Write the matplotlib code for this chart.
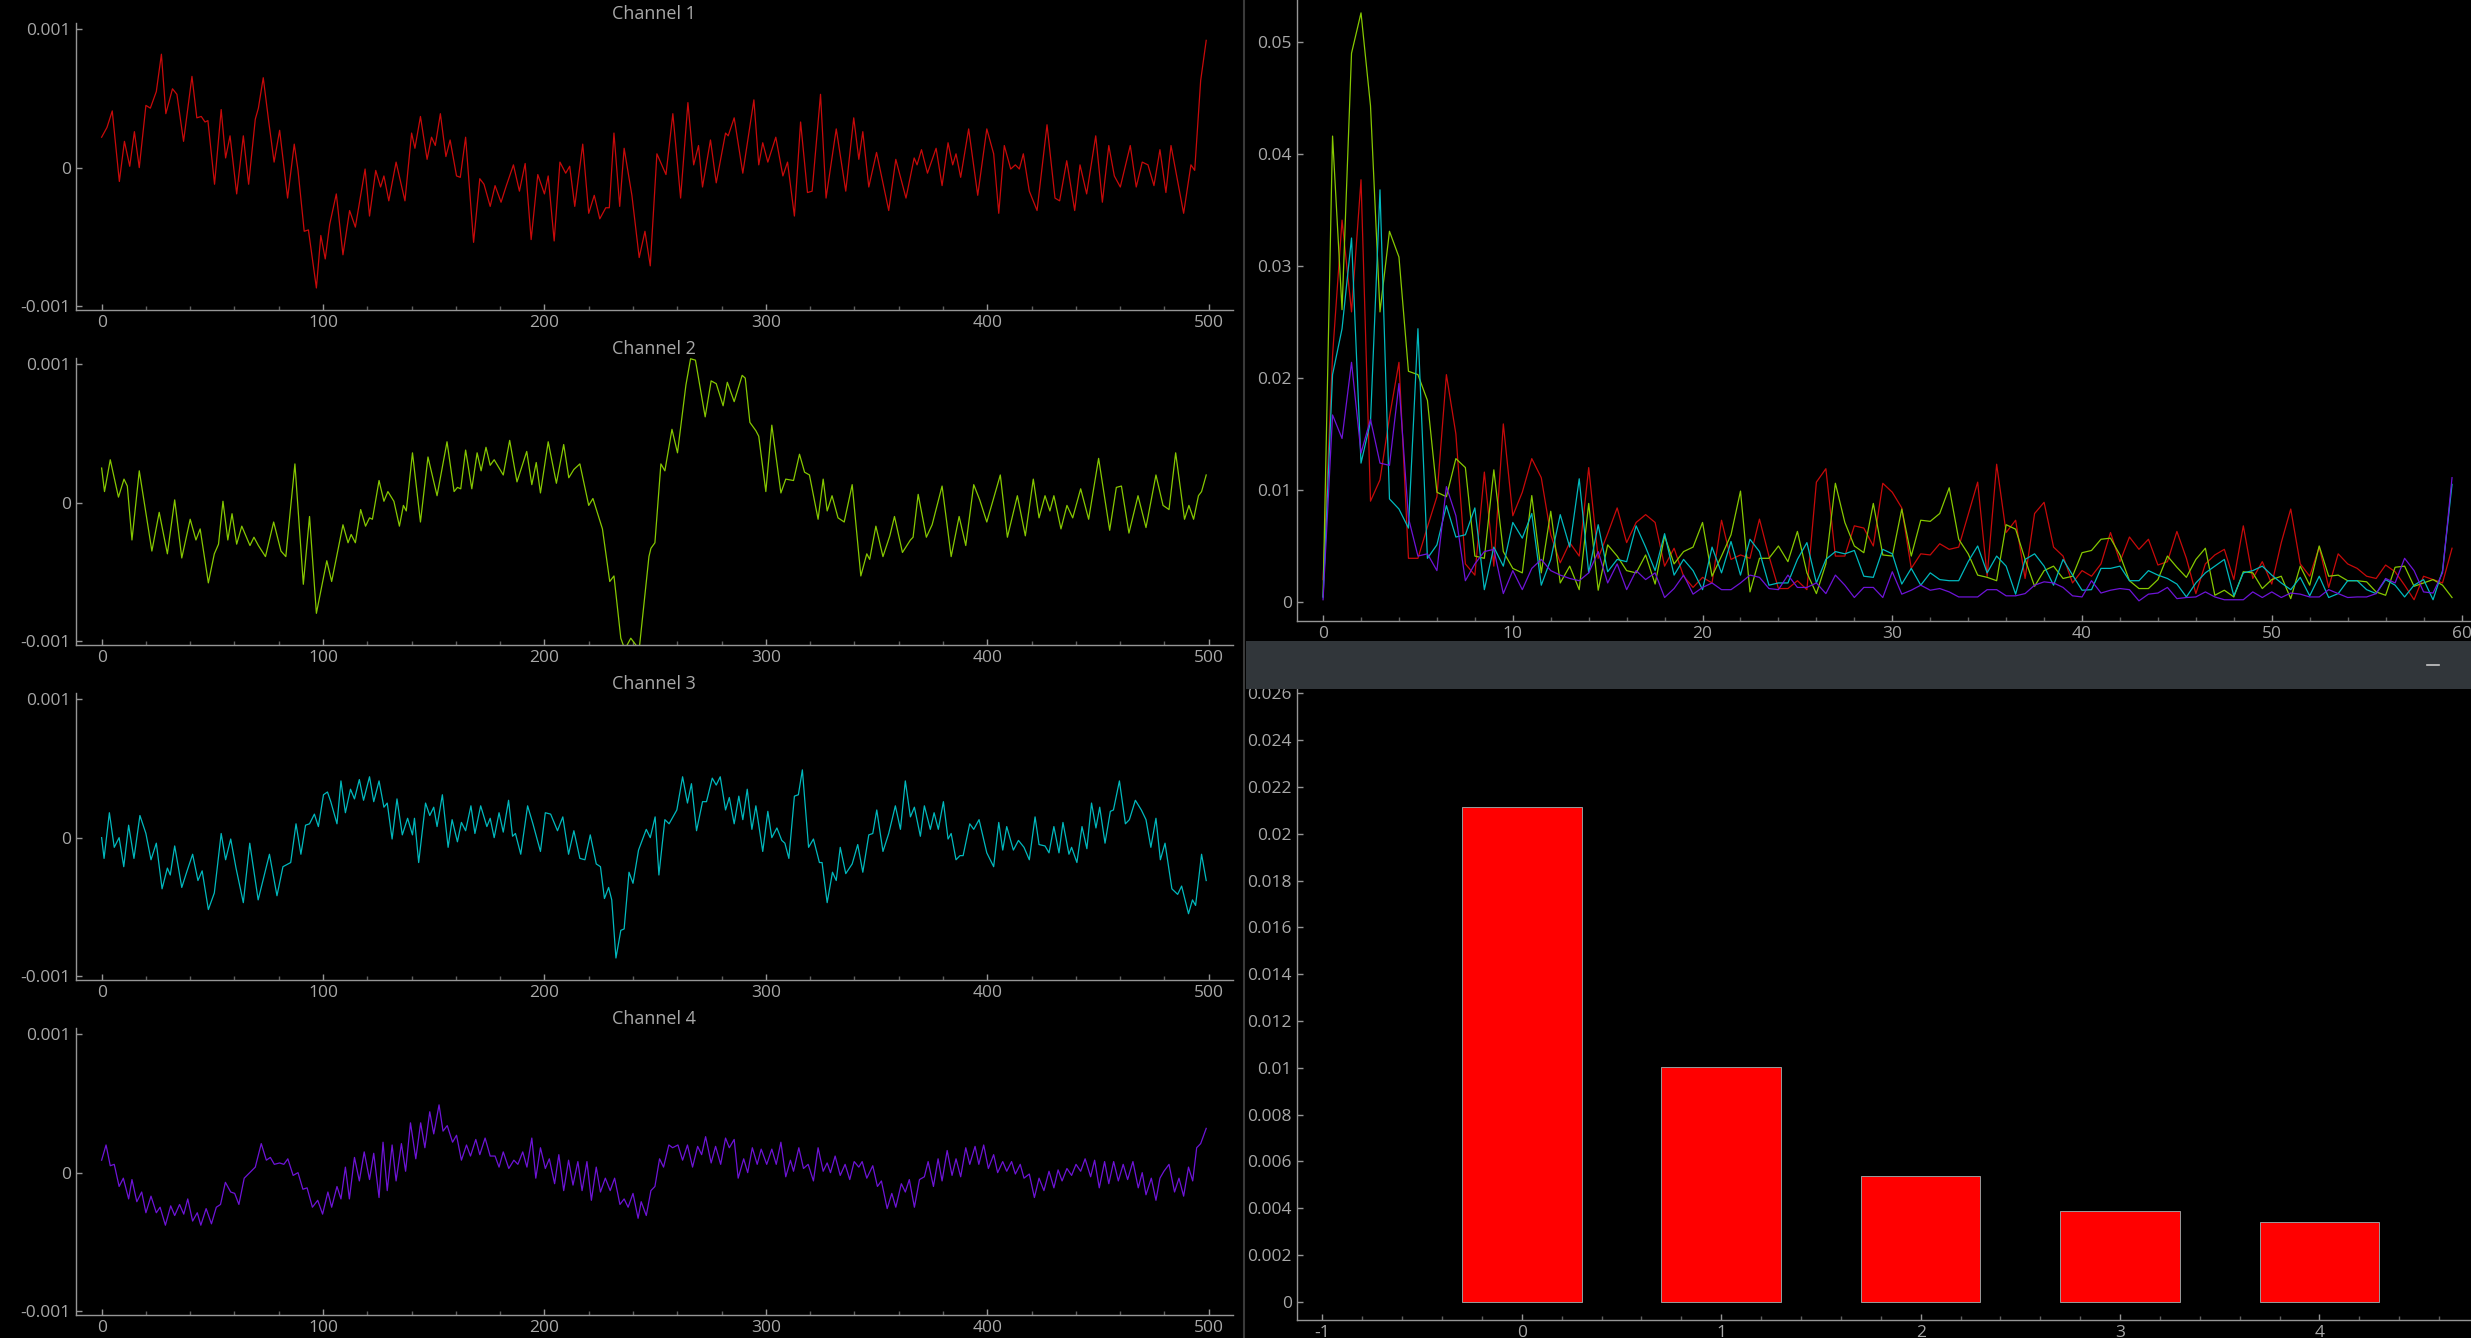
import matplotlib

matplotlib.use("Agg")
import matplotlib.pyplot as plt
import numpy as np
from matplotlib.lines import Line2D
from matplotlib.patches import Rectangle
from matplotlib.ticker import FuncFormatter, MultipleLocator

# ---- data (signal values in units of 1e-3) ----
SCALE = 1e-3

CH1_X = [0, 2.4, 4.8, 8, 10.3, 12.7, 14.8, 17, 20, 22, 24.7, 27, 29, 32, 34, 37, 40.8, 43, 45, 46.7,
         48, 51, 54, 56, 58, 61, 64, 66.4, 69.4, 70.8, 73, 75.5, 77.9, 80.4, 84, 87, 88.7, 91.5, 93.4, 97,
         99, 101, 103, 106, 109, 112, 114.6, 119, 121, 123.8, 126, 127.5, 129.7, 133, 137, 140, 141.5, 144, 147, 149,
         150.7, 153, 155.5, 157.4, 160.3, 162, 164.4, 168, 170.8, 172.7, 175.5, 177.7, 180.4, 182.8, 186, 188.7, 191.3, 194, 197, 200,
         201.7, 204.4, 207, 209.6, 211.4, 213.7, 217.3, 220, 222.5, 225, 227.7, 229.3, 231.4, 234, 236, 239.5, 242.8, 245.4, 247.8, 250.8,
         254.9, 258, 261.5, 264.8, 267.4, 269.6, 271.4, 275, 277.6, 281.8, 283, 285.7, 289.6, 294.6, 296.8, 298.6, 300.9, 304.5, 307.7, 309.8,
         312.9, 315.7, 318.8, 320.9, 324.7, 327.2, 331.8, 336.1, 339.7, 342, 343.8, 346.5, 350, 355.5, 358.7, 363.3, 367, 368.3, 370.3, 373,
         376.9, 379.6, 382.3, 384.4, 385.9, 388, 391.6, 395.7, 399.8, 402.9, 405.2, 407.7, 410.6, 412.7, 414.5, 416.3, 419, 422.5, 427, 430.6,
         432.7, 435.9, 439.5, 441.9, 444.9, 449, 452, 454.9, 457.4, 460.1, 464.6, 467.3, 470, 472.6, 475.3, 478, 480.7, 483, 488.7, 492,
         493.7, 496.4, 498.9]
CH1_Y = [0.22, 0.29, 0.41, -0.10, 0.19, 0.01, 0.26, 0.0, 0.45, 0.43, 0.55, 0.82, 0.39, 0.57, 0.53, 0.19, 0.66, 0.36, 0.37, 0.33,
         0.34, -0.12, 0.42, 0.07, 0.23, -0.19, 0.23, -0.12, 0.35, 0.43, 0.65, 0.33, 0.04, 0.27, -0.22, 0.17, -0.02, -0.46, -0.45, -0.87,
         -0.49, -0.66, -0.41, -0.19, -0.63, -0.31, -0.43, -0.01, -0.35, -0.02, -0.14, -0.06, -0.24, 0.04, -0.24, 0.25, 0.14, 0.37, 0.06, 0.22,
         0.16, 0.39, 0.08, 0.20, -0.06, -0.07, 0.22, -0.54, -0.08, -0.12, -0.28, -0.13, -0.25, -0.13, 0.02, -0.17, 0.03, -0.52, -0.05, -0.19,
         -0.06, -0.53, 0.04, -0.04, 0.01, -0.28, 0.17, -0.33, -0.20, -0.37, -0.29, -0.29, 0.25, -0.28, 0.14, -0.20, -0.65, -0.46, -0.71, 0.10,
         -0.05, 0.39, -0.22, 0.47, 0.02, 0.16, -0.14, 0.20, -0.11, 0.25, 0.23, 0.36, -0.04, 0.49, 0.02, 0.18, 0.04, 0.22, -0.06, 0.04,
         -0.35, 0.33, -0.18, -0.17, 0.53, -0.22, 0.28, -0.17, 0.36, 0.06, 0.26, -0.14, 0.11, -0.31, 0.06, -0.22, 0.07, 0.02, 0.13, -0.04,
         0.14, -0.13, 0.18, 0.02, 0.10, -0.07, 0.28, -0.20, 0.28, 0.10, -0.33, 0.16, -0.01, 0.02, -0.01, 0.10, -0.17, -0.31, 0.31, -0.22,
         -0.24, 0.05, -0.31, 0.02, -0.19, 0.23, -0.25, 0.16, -0.06, -0.14, 0.16, -0.14, 0.04, 0.02, -0.13, 0.13, -0.18, 0.16, -0.33, 0.02,
         -0.02, 0.63, 0.92]

CH2_X = [0, 1.3, 3.9, 7.6, 10.1, 11.6, 13.7, 17, 22.7, 26, 29.7, 33, 36.2, 40, 42.6, 44.5, 48.2, 50.9, 52.8, 54.8,
         57, 58.9, 61, 63.3, 67, 68.8, 70.8, 74, 77.7, 81, 83.2, 87.3, 91.1, 93.9, 97, 101.7, 103.9, 109, 111.3, 112.7,
         114.6, 117, 119.2, 121, 122.3, 125.3, 127.5, 129.3, 132, 134.5, 136.3, 137.6, 140.4, 144, 147.4, 151.5, 156, 159.2, 160.7, 162.2,
         164.4, 167.2, 169.6, 171.4, 173.6, 175.5, 177.3, 181.4, 184.3, 187.6, 192, 194.3, 196.3, 198.2, 201.7, 205.4, 208.7, 211, 213.3, 216,
         220, 221.9, 226.2, 229.5, 231.4, 234.5, 236.3, 239, 242.8, 247.2, 248.1, 249.9, 252.6, 254.4, 257.6, 260.1, 263.9, 266, 268.2, 272.6,
         275.3, 277.6, 280.7, 282.6, 285.7, 289.3, 290.7, 292.8, 295.5, 296.8, 300, 302.7, 306.8, 309, 312.5, 315.2, 317.5, 319.7, 323.6, 325.9,
         327.7, 329.9, 332.6, 335.4, 339, 342.9, 345.6, 346.9, 349.7, 352.9, 356, 358.1, 361.7, 365.3, 366.5, 368.8, 372.5, 375.1, 379.6, 383.7,
         387.3, 390.3, 393.9, 396.6, 399.8, 405.9, 409.1, 413.6, 417.2, 420.8, 423.4, 426.1, 428.3, 430.1, 433.3, 436, 438.6, 442.2, 445.8, 450.3,
         455.3, 458.3, 460.6, 464, 468.1, 471.7, 476.2, 479.4, 482.1, 485.1, 489.1, 491.1, 493.2, 495.4, 496.8, 498.9]
CH2_Y = [0.25, 0.08, 0.31, 0.04, 0.17, 0.12, -0.27, 0.23, -0.35, -0.07, -0.37, 0.02, -0.40, -0.12, -0.27, -0.19, -0.58, -0.37, -0.30, 0.01,
         -0.27, -0.08, -0.30, -0.17, -0.31, -0.25, -0.31, -0.39, -0.14, -0.35, -0.39, 0.28, -0.59, -0.10, -0.80, -0.42, -0.57, -0.16, -0.29, -0.23,
         -0.29, -0.05, -0.17, -0.11, -0.12, 0.16, 0.01, 0.08, 0.01, -0.17, -0.02, -0.06, 0.36, -0.14, 0.33, 0.05, 0.44, 0.08, 0.11, 0.10,
         0.38, 0.10, 0.36, 0.23, 0.40, 0.27, 0.31, 0.20, 0.45, 0.15, 0.37, 0.13, 0.29, 0.07, 0.44, 0.14, 0.42, 0.18, 0.24, 0.28,
         -0.02, 0.03, -0.19, -0.57, -0.53, -0.98, -1.06, -0.98, -1.06, -0.39, -0.33, -0.29, 0.28, 0.23, 0.53, 0.36, 0.85, 1.04, 1.03, 0.62,
         0.88, 0.86, 0.70, 0.87, 0.73, 0.92, 0.90, 0.58, 0.52, 0.48, 0.08, 0.56, 0.07, 0.17, 0.16, 0.35, 0.22, 0.20, -0.12, 0.17,
         -0.06, 0.05, -0.11, -0.14, 0.13, -0.53, -0.37, -0.41, -0.17, -0.39, -0.24, -0.10, -0.36, -0.27, -0.25, 0.06, -0.25, -0.16, 0.12, -0.39,
         -0.10, -0.31, 0.13, 0.02, -0.14, 0.20, -0.25, 0.05, -0.24, 0.17, -0.11, 0.05, -0.06, 0.05, -0.19, -0.02, -0.11, 0.10, -0.12, 0.32,
         -0.20, 0.11, 0.12, -0.22, 0.05, -0.18, 0.20, -0.02, -0.05, 0.36, -0.12, -0.02, -0.12, 0.05, 0.08, 0.20]

CH3_X = [0, 1.1, 3.5, 5.7, 7.9, 10, 12.2, 14.6, 17.3, 20, 22.3, 24.7, 27.3, 29.7, 31, 33, 36.2, 38.6, 41.1, 43.5,
         45.4, 48.2, 50.9, 54, 56, 58.3, 60.7, 64, 66.9, 70.7, 75.8, 79.2, 81.9, 85.4, 87.8, 90, 92.1, 93.9, 96.1, 97.9,
         100.2, 102, 103.5, 106.3, 108.1, 110.1, 112.4, 114.2, 116.4, 118.3, 121, 122.9, 125.3, 127.5, 129, 131.2, 133.4, 135.8, 138.2, 140.4,
         141.3, 143.2, 146.3, 148.2, 150, 151.5, 153.9, 156.5, 158.3, 160.7, 162.5, 164.4, 166.8, 168.6, 171.2, 174, 175.5, 177.3, 179.5, 181.4,
         183.8, 185.6, 186.9, 189.3, 192.4, 194.8, 198.2, 200.4, 202.8, 205.9, 208.3, 210.9, 213.3, 216, 218.3, 220.7, 223.4, 225.3, 227.1, 229,
         230.4, 232.3, 234.5, 236, 238.2, 240, 242.5, 246, 247.8, 250, 251.7, 254.4, 256.3, 259.8, 262.4, 264.6, 266.4, 268.7, 271.4, 273.2,
         275.8, 277.6, 279.4, 281.8, 283.5, 285.7, 287.8, 289.6, 291.6, 293.7, 295.5, 298.6, 300.9, 302.7, 305, 307.2, 308.6, 310.4, 312.9, 314.7,
         316.5, 319.3, 321.5, 324.2, 325.4, 327.7, 330.1, 331.8, 333.6, 336.1, 339, 341.5, 343.8, 346.5, 348.3, 350.1, 352.9, 355.5, 358.5, 360.8,
         363, 365.3, 367.1, 369.8, 371.6, 374.3, 376, 377.9, 380.2, 382.3, 383.7, 385.9, 387.7, 389.1, 392.1, 393.9, 396.3, 399.8, 402.9, 405.2,
         407, 408.8, 411.8, 414.1, 416.6, 419, 421.6, 423.4, 426.1, 427.9, 430.1, 432.4, 434.2, 436.9, 438.1, 440.5, 442.8, 445, 447.1, 449.1,
         450.8, 453.2, 455.6, 457, 459.7, 462.4, 464.2, 466.9, 469.6, 471.7, 473.9, 476.2, 478.2, 480.3, 483.4, 486, 487.8, 490.9, 492.7, 494.1,
         496.8, 498.9]
CH3_Y = [0.0, -0.15, 0.18, -0.07, 0.0, -0.21, 0.09, -0.15, 0.16, 0.03, -0.16, -0.04, -0.37, -0.22, -0.27, -0.06, -0.36, -0.24, -0.12, -0.31,
         -0.24, -0.52, -0.40, 0.03, -0.16, -0.01, -0.22, -0.47, -0.04, -0.45, -0.12, -0.42, -0.21, -0.18, 0.10, -0.12, 0.09, 0.10, 0.17, 0.08,
         0.31, 0.33, 0.26, 0.10, 0.41, 0.18, 0.35, 0.28, 0.42, 0.27, 0.44, 0.26, 0.41, 0.22, 0.25, -0.01, 0.28, 0.02, 0.14, 0.02,
         0.14, -0.18, 0.25, 0.16, 0.22, 0.08, 0.31, -0.07, 0.13, -0.03, 0.11, 0.05, 0.23, 0.03, 0.23, 0.08, 0.14, 0.0, 0.18, 0.04,
         0.27, 0.01, 0.03, -0.12, 0.23, 0.10, -0.10, 0.18, 0.17, 0.05, 0.15, -0.12, 0.05, -0.15, -0.16, 0.02, -0.19, -0.21, -0.44, -0.36,
         -0.45, -0.87, -0.67, -0.66, -0.25, -0.33, -0.09, 0.06, 0.0, 0.15, -0.27, 0.13, 0.10, 0.20, 0.44, 0.25, 0.39, 0.05, 0.26, 0.26,
         0.43, 0.38, 0.44, 0.20, 0.29, 0.10, 0.30, 0.13, 0.35, 0.06, 0.23, -0.10, 0.19, 0.0, 0.07, -0.02, -0.04, -0.15, 0.30, 0.31,
         0.49, -0.07, -0.01, -0.18, -0.18, -0.47, -0.25, -0.31, -0.07, -0.26, -0.19, -0.05, -0.25, 0.02, 0.03, 0.20, -0.10, 0.03, 0.23, 0.06,
         0.41, 0.15, 0.22, 0.01, 0.23, 0.06, 0.18, 0.06, 0.26, -0.01, 0.03, -0.16, -0.13, -0.13, 0.10, 0.06, 0.13, -0.11, -0.21, 0.11,
         -0.09, 0.08, -0.09, -0.02, -0.07, -0.16, 0.15, -0.05, -0.06, -0.11, 0.08, -0.11, 0.11, -0.12, -0.07, -0.18, 0.08, -0.08, 0.25, 0.07,
         0.22, -0.04, 0.19, 0.20, 0.41, 0.10, 0.13, 0.27, 0.20, 0.13, -0.07, 0.14, -0.16, -0.04, -0.37, -0.41, -0.35, -0.55, -0.45, -0.49,
         -0.12, -0.31]

CH4_X = [0, 2, 3.9, 5.7, 7.9, 9.8, 12.2, 13.7, 15.9, 18.1, 20, 22.3, 24.7, 26.4, 28.8, 31.2, 33, 35.2, 37.1, 38.9,
         41.1, 43.2, 44.8, 47.2, 49.6, 51.8, 53.7, 55.9, 58.3, 60.1, 62, 64.4, 66.9, 69.4, 72.1, 74.4, 76.2, 78, 80.4, 82.3,
         84.1, 86.5, 88.7, 90.9, 92.8, 95.2, 97.6, 99.8, 102.2, 103.9, 106.3, 108.1, 110.1, 111.9, 114.2, 116.4, 118.6, 121, 122.9, 125.3,
         127.1, 129, 131.2, 133, 135.4, 137.3, 139.5, 141.9, 144.1, 146, 148.2, 150, 152.4, 154.2, 156.1, 158.5, 160.3, 162.5, 164.8, 166.6,
         169, 170.8, 173.2, 175.5, 177.7, 179.5, 181.4, 183.9, 186.2, 188, 190.2, 192.1, 194.3, 196.1, 198.2, 200.4, 202.2, 204.6, 206.5, 208.7,
         210.9, 212.9, 215.1, 217, 219.2, 221.2, 223.4, 225.3, 227.5, 229.7, 231.7, 234.1, 236, 237.8, 240, 242.3, 243.7, 246, 248.1, 249.9,
         252, 253.8, 256.2, 257.9, 260.3, 262.4, 264.6, 266.9, 269.2, 271, 272.8, 275.3, 277.3, 279.6, 281.8, 283.5, 285.7, 287.5, 290, 291.8,
         293.9, 296.1, 297.9, 300.4, 302.7, 304.7, 306.8, 309, 311.1, 312.5, 314.9, 317, 319.1, 321.5, 323.6, 325.9, 327.7, 329.2, 331.3, 333.6,
         335.8, 337.9, 339.9, 342, 343.5, 345.6, 348.3, 350.4, 352.2, 354.8, 356.9, 358.7, 361.2, 363, 364.8, 367.1, 369.4, 371.6, 373.3, 375.7,
         377.8, 379.6, 381.9, 384.1, 385.9, 388, 390.3, 392.1, 394.5, 396.2, 398.4, 400.5, 402.9, 404.7, 407, 408.8, 411, 412.7, 414.9, 416.6,
         419, 421.3, 423.4, 425.6, 427.9, 430.1, 432, 433.8, 436, 438.1, 440.1, 442.2, 444.2, 446.7, 448.5, 450.6, 453, 454.9, 457.1, 459.2,
         461.4, 463.4, 465.8, 468.2, 470, 471.7, 474.1, 476.2, 478, 479.8, 482.1, 484.6, 486.6, 488.7, 490.9, 492.8, 494.6, 496.4, 498.9]
CH4_Y = [0.09, 0.20, 0.05, 0.06, -0.10, -0.04, -0.19, -0.05, -0.21, -0.14, -0.29, -0.17, -0.29, -0.25, -0.38, -0.24, -0.31, -0.23, -0.30, -0.19,
         -0.35, -0.29, -0.38, -0.26, -0.37, -0.25, -0.23, -0.07, -0.14, -0.15, -0.23, -0.04, 0.0, 0.04, 0.21, 0.09, 0.11, 0.06, 0.07, 0.06,
         0.10, -0.02, 0.0, -0.12, -0.11, -0.25, -0.20, -0.30, -0.14, -0.25, -0.10, -0.19, 0.04, -0.19, 0.11, -0.06, 0.15, -0.05, 0.14, -0.18,
         0.22, -0.13, 0.20, -0.06, 0.21, 0.01, 0.36, 0.10, 0.36, 0.18, 0.44, 0.28, 0.49, 0.30, 0.34, 0.22, 0.27, 0.09, 0.20, 0.12,
         0.24, 0.13, 0.25, 0.12, 0.12, 0.04, 0.15, 0.03, 0.09, 0.06, 0.15, 0.04, 0.25, -0.04, 0.18, 0.03, 0.10, -0.08, 0.13, -0.13,
         0.09, -0.09, 0.08, -0.13, 0.08, -0.20, 0.04, -0.14, -0.04, -0.13, -0.04, -0.23, -0.19, -0.25, -0.15, -0.33, -0.21, -0.31, -0.13, -0.10,
         0.10, 0.04, 0.20, 0.18, 0.20, 0.09, 0.20, 0.04, 0.19, 0.13, 0.26, 0.07, 0.19, 0.06, 0.25, 0.18, 0.24, -0.04, 0.10, 0.0,
         0.18, 0.06, 0.17, 0.06, 0.17, 0.06, 0.22, -0.03, 0.09, 0.01, 0.18, 0.03, 0.06, -0.06, 0.18, 0.01, 0.07, 0.0, 0.12, -0.02,
         0.06, -0.05, 0.08, 0.04, 0.08, -0.04, 0.05, -0.10, -0.06, -0.26, -0.15, -0.25, -0.08, -0.14, -0.05, -0.25, -0.05, -0.03, 0.08, -0.10,
         0.10, -0.06, 0.16, -0.02, 0.10, -0.03, 0.18, 0.06, 0.19, 0.06, 0.20, 0.03, 0.13, 0.0, 0.08, 0.01, 0.08, -0.01, 0.06, -0.04,
         -0.01, -0.18, -0.04, -0.13, 0.01, -0.11, 0.02, -0.06, 0.03, -0.02, 0.06, 0.01, 0.10, -0.03, 0.09, -0.11, 0.08, -0.08, 0.08, -0.06,
         0.06, -0.05, 0.08, -0.11, 0.0, -0.16, -0.04, -0.20, -0.04, 0.01, 0.06, -0.14, -0.04, -0.17, 0.04, -0.06, 0.18, 0.21, 0.32]

CHANNELS = [(CH1_X, CH1_Y), (CH2_X, CH2_Y), (CH3_X, CH3_Y), (CH4_X, CH4_Y)]
CHANNEL_NAMES = ["Channel 1", "Channel 2", "Channel 3", "Channel 4"]

# spectrum, one value per 0.5 Hz from 0 to 59.5 (units of 1e-3)
FREQS = np.arange(0, 60, 0.5)
SPEC_CH1 = [2.0, 22, 34.1, 25.9, 37.7, 9.0, 10.9, 16.5, 21.4, 3.9,
            3.9, 6.7, 9.4, 20.3, 15.0, 3.4, 2.4, 11.6, 3.2, 15.9,
            7.7, 9.8, 12.8, 11.1, 6.0, 3.5, 5.3, 4.1, 12.0, 3.9,
            6.1, 8.4, 5.3, 7.1, 7.8, 7.1, 3.2, 4.8, 2.3, 1.3,
            2.2, 1.7, 7.3, 3.8, 4.2, 3.9, 7.4, 4.1, 1.2, 1.2,
            1.9, 1.1, 10.7, 11.9, 4.1, 4.1, 6.8, 6.6, 5.0, 10.6,
            9.8, 8.4, 3.0, 4.3, 4.2, 5.2, 4.7, 4.9, 7.8, 10.7,
            2.3, 12.3, 6.2, 7.3, 2.1, 7.9, 8.9, 4.9, 4.1, 1.7,
            2.8, 2.3, 3.4, 6.2, 3.6, 5.8, 4.7, 5.6, 3.3, 3.6,
            6.3, 3.9, 0.75, 3.4, 4.2, 4.7, 2.0, 6.8, 2.1, 3.6,
            1.6, 5.3, 8.3, 3.4, 2.3, 4.9, 1.3, 4.3, 3.4, 3.0,
            2.3, 2.1, 3.3, 2.7, 1.5, 0.2, 2.3, 2.0, 1.7, 4.8]
SPEC_CH2 = [0.5, 41.6, 26.1, 49.0, 52.6, 44.3, 25.9, 33.1, 30.8, 20.6,
            20.3, 18.0, 9.8, 9.4, 12.8, 12.0, 4.1, 3.9, 11.8, 4.5,
            3.0, 2.6, 9.5, 2.6, 8.1, 1.7, 3.2, 1.1, 8.8, 1.05,
            5.1, 4.1, 2.8, 2.6, 4.2, 1.6, 5.9, 3.4, 4.5, 4.9,
            7.1, 2.3, 4.1, 6.0, 9.9, 0.9, 3.9, 3.9, 5.0, 3.6,
            6.3, 2.6, 0.75, 3.4, 10.6, 7.1, 5.0, 4.4, 8.8, 4.2,
            4.1, 8.3, 4.1, 7.3, 7.2, 7.9, 10.2, 5.6, 4.3, 2.4,
            2.2, 1.9, 6.9, 6.5, 3.8, 1.4, 2.8, 3.2, 2.1, 2.3,
            4.4, 4.6, 5.6, 5.7, 4.2, 1.9, 1.2, 1.2, 2.0, 4.1,
            3.1, 2.2, 3.8, 4.8, 0.6, 1.05, 0.45, 2.7, 2.6, 1.2,
            2.0, 2.3, 0.3, 3.2, 1.5, 5.0, 2.3, 2.4, 1.9, 1.9,
            1.8, 0.9, 0.6, 3.1, 3.2, 1.4, 1.7, 2.0, 1.5, 0.4]
SPEC_CH3 = [0.4, 20.3, 24.4, 32.5, 12.4, 16.1, 36.8, 9.2, 8.3, 6.6,
            24.4, 3.9, 5.1, 8.6, 5.8, 6.0, 8.4, 1.1, 4.9, 3.2,
            7.1, 5.7, 7.9, 1.5, 3.8, 7.8, 4.9, 11.0, 2.6, 6.9,
            2.7, 3.8, 3.6, 6.8, 4.9, 2.8, 6.1, 2.4, 3.8, 2.8,
            1.1, 4.9, 2.6, 5.4, 2.4, 5.6, 4.5, 1.5, 1.7, 1.7,
            3.8, 5.3, 1.7, 3.8, 4.5, 4.3, 4.6, 2.3, 2.2, 4.7,
            4.3, 1.6, 3.0, 1.5, 2.6, 2.0, 1.9, 1.9, 3.6, 5.0,
            2.6, 4.1, 3.2, 0.7, 3.8, 4.3, 3.2, 1.5, 3.8, 2.4,
            1.05, 1.1, 3.0, 3.0, 3.2, 1.9, 1.9, 2.8, 2.4, 2.1,
            1.6, 0.45, 1.7, 2.6, 3.2, 3.8, 0.55, 2.6, 2.8, 3.2,
            2.4, 1.7, 1.1, 2.2, 0.55, 2.3, 0.4, 0.75, 1.9, 1.9,
            1.1, 0.75, 2.0, 1.5, 0.45, 1.5, 2.0, 0.2, 2.8, 10.5]
SPEC_CH4 = [0.2, 16.7, 14.6, 21.4, 13.3, 16.3, 12.4, 12.2, 19.5, 7.5,
            4.1, 4.3, 2.8, 10.3, 7.7, 1.9, 3.4, 4.5, 4.7, 0.75,
            2.8, 1.1, 3.0, 3.8, 2.8, 2.4, 2.1, 1.9, 2.6, 4.5,
            1.7, 3.4, 1.1, 2.8, 2.0, 2.6, 0.4, 1.2, 2.4, 0.7,
            1.3, 1.7, 1.1, 1.1, 1.7, 2.4, 2.2, 1.2, 1.1, 2.4,
            1.3, 1.3, 1.7, 0.75, 2.4, 1.5, 0.4, 1.3, 1.3, 0.4,
            2.7, 0.7, 1.05, 1.5, 1.05, 1.2, 0.9, 0.45, 0.45, 0.45,
            1.1, 1.1, 0.55, 0.55, 0.75, 1.5, 1.8, 1.7, 1.3, 0.55,
            0.45, 1.9, 0.8, 1.05, 1.2, 1.1, 0.1, 0.7, 0.8, 1.3,
            0.3, 0.4, 0.45, 0.9, 0.45, 0.2, 0.2, 0.2, 0.9, 0.4,
            0.9, 0.4, 0.8, 0.7, 0.45, 0.45, 1.1, 0.75, 0.4, 0.45,
            0.45, 0.75, 2.1, 1.7, 3.9, 2.8, 0.9, 0.8, 2.6, 11.1]
SPECTRA = [SPEC_CH1, SPEC_CH2, SPEC_CH3, SPEC_CH4]

BAR_POS = [0, 1, 2, 3, 4]
BAR_VALUES = [0.02113, 0.01005, 0.00536, 0.00388, 0.0034]

# ---- style ----
W, H = 2471, 1338
FG = "#969696"
TXT = "#a8a8a8"
COLORS = ["#c80a0a", "#86c800", "#00b9be", "#6e14d7"]

plt.rcParams["font.family"] = ["Open Sans", "DejaVu Sans"]


def tick_fmt(v, pos):
    v = round(v, 6)
    return "0" if v == 0 else f"{v:g}"


def style_axes(ax):
    ax.set_facecolor("black")
    for side in ("top", "right"):
        ax.spines[side].set_visible(False)
    for side in ("left", "bottom"):
        ax.spines[side].set_color(FG)
        ax.spines[side].set_linewidth(1.0)
    ax.tick_params(which="both", direction="in", color=FG, labelcolor=TXT,
                   labelsize=12.5, width=1, pad=3.5)
    ax.tick_params(which="major", length=4)
    ax.tick_params(which="minor", length=3, color="#5e5e5e")
    ax.yaxis.set_major_formatter(FuncFormatter(tick_fmt))
    ax.xaxis.set_major_formatter(FuncFormatter(tick_fmt))


def px_rect(left, top, right, bottom):
    return [left / W, 1 - bottom / H, (right - left) / W, (bottom - top) / H]


def main() -> None:
    fig = plt.figure(figsize=(W / 100, H / 100), dpi=100, facecolor="black")

    # four channel traces on the left
    for i, ((xs, ys), name, color) in enumerate(zip(CHANNELS, CHANNEL_NAMES, COLORS)):
        top = 23 + 335 * i
        ax = fig.add_axes(px_rect(75.5, top, 1233, top + 287))
        style_axes(ax)
        ax.plot(xs, np.array(ys) * SCALE, color=color, lw=0.9)
        ax.set_xlim(-11.8, 511)
        ax.set_ylim(-1.029e-3, 1.0455e-3)
        ax.set_xticks([0, 100, 200, 300, 400, 500])
        ax.xaxis.set_minor_locator(MultipleLocator(20))
        ax.set_yticks([-0.001, 0, 0.001])
        fig.text(654 / W, 1 - (14 + 335 * i) / H, name, ha="center", va="center",
                 color=TXT, fontsize=13)

    # spectrum, top right
    ax_s = fig.add_axes(px_rect(1296.5, 0, W, 620.8))
    style_axes(ax_s)
    for spec, color in zip(SPECTRA, COLORS):
        ax_s.plot(FREQS, np.array(spec) * SCALE, color=color, lw=0.9)
    ax_s.set_xlim(-1.4, 60.5)
    ax_s.set_ylim(-0.00168, 0.05375)
    ax_s.set_xticks([0, 10, 20, 30, 40, 50, 60])
    ax_s.xaxis.set_minor_locator(MultipleLocator(2))
    ax_s.set_yticks([0, 0.01, 0.02, 0.03, 0.04, 0.05])

    # band power bars, bottom right
    ax_b = fig.add_axes(px_rect(1296.5, 689, W, 1319.8))
    style_axes(ax_b)
    ax_b.bar(BAR_POS, BAR_VALUES, width=0.6, color="#ff0000", edgecolor="#9a9a9a", linewidth=0.7)
    ax_b.set_xlim(-1.13, 4.76)
    ax_b.set_ylim(-0.000769, 0.026188)
    ax_b.set_xticks([-1, 0, 1, 2, 3, 4])
    ax_b.xaxis.set_minor_locator(MultipleLocator(0.2))
    ax_b.set_yticks(np.arange(0, 0.0261, 0.002))

    # splitter line and dock header
    fig.add_artist(Line2D([1244 / W, 1244 / W], [0, 1], color="#3a3a3a", lw=1.5))
    fig.add_artist(Rectangle((1246 / W, 1 - 689 / H), (W - 1246) / W, 48 / H,
                             facecolor="#31363a", edgecolor="none", zorder=5))
    fig.add_artist(Line2D([2427 / W, 2439 / W], [1 - 665 / H, 1 - 665 / H],
                          color="#c8c8c8", lw=1.2, zorder=6))

    fig.savefig("out.png", dpi=100, facecolor="black")
    plt.close(fig)


if __name__ == "__main__":
    main()
